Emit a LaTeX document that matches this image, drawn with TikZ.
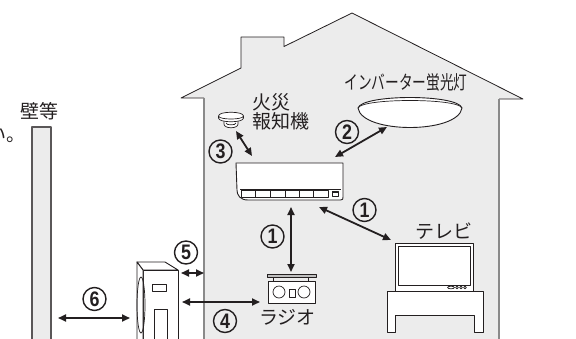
\documentclass[tikz,border=0pt]{standalone}
\usepackage{fontspec}
\newfontfamily\jp{Noto Sans CJK JP}
\newfontfamily\numf{Liberation Sans}
\usetikzlibrary{arrows.meta}
\definecolor{wallfill}{HTML}{ECECEC}
\definecolor{ink}{HTML}{231F20}
\definecolor{wallline}{HTML}{8A8A8A}
\newcommand{\cdigit}[1]{\scalebox{0.85}[1]{#1}}
\begin{document}
\begin{tikzpicture}[x=1pt,y=-1pt,line join=round,
  lbl/.style={font=\jp\fontsize{19}{21}\selectfont,text=ink,inner sep=0pt},
  num/.style={circle,draw=ink,line width=1.4pt,minimum size=23pt,inner sep=0pt,
    font=\numf\bfseries\fontsize{21}{21}\selectfont,text=ink},
  dbl/.style={{Triangle[length=8pt,width=7pt]}-{Triangle[length=8pt,width=7pt]},
    line width=1.8pt,draw=ink},
  obj/.style={draw=ink,line width=0.9pt,fill=white},
  thin/.style={draw=ink,line width=0.7pt}]
\useasboundingbox (0,0) rectangle (576,338);

% house body
\fill[wallfill] (181,98) -- (241,68) -- (241,37) -- (284,37) -- (284,46.5)
  -- (352,13) -- (523,99) -- (499,99) -- (499,345) -- (204,345) -- (204,98) -- cycle;
\draw[ink,line width=0.8pt] (204,98) -- (181,98) -- (241,68) -- (241,37) -- (284,37)
  -- (284,46.5) -- (352,13) -- (523,99) -- (499,99);
\draw[wallline,line width=1.8pt] (204,98) -- (204,345);
\draw[wallline,line width=1.8pt] (499,99) -- (499,345);

% outside wall
\draw[fill=wallfill,draw=ink!75,line width=1.1pt] (32,127) rectangle (51,345);
\node[lbl] (wall) at (39.5,111.5) {壁等};
\node[lbl,anchor=base east] (tail) at (26,141) {い。};

% ceiling light
\draw[obj] (358,108) .. controls (362,94) and (458,94) .. (462,108)
  .. controls (458,134) and (362,134) .. (358,108) -- cycle;
\draw[thin] (358,108) .. controls (362,98) and (458,98) .. (462,108);
\node[lbl,xscale=0.72] (lightlbl) at (406,82) {インバーター蛍光灯};

% smoke detector
\draw[obj,line width=0.7pt] (224,120) -- (224,124) .. controls (224,129) and (238,129) .. (238,124) -- (238,120);
\draw[obj,line width=0.7pt] (218.5,116) .. controls (218.5,111) and (243.5,111) .. (243.5,116)
  -- (243.5,118) .. controls (243.5,123) and (218.5,123) .. (218.5,118) -- cycle;
\draw[thin] (218.5,116) .. controls (218.5,120) and (243.5,120) .. (243.5,116);
\draw[thin] (226,123) .. controls (226,125.5) and (236,125.5) .. (236,123);
\node[lbl] (fire1) at (271,102.5) {火災};
\node[lbl] (fire2) at (280.5,121) {報知機};

% indoor air conditioner
\draw[obj] (236,163) -- (343,163) -- (343,197) .. controls (343,199.5) .. (340.5,200)
  -- (248,200) .. controls (240,200) and (237,195) .. (237,190) -- cycle;
\draw[ink,line width=1.6pt] (240,189.5) -- (341,189.5);
\draw[thin] (241,190) rectangle (328,197);
\foreach \vx in {255,270,285,299,313} \draw[thin] (\vx,190) -- (\vx,197);
\draw[thin,fill=white] (332,191) rectangle (338,196);
\fill[ink] (332,191) rectangle (338,193);

% television on its stand
\draw[obj] (387,291) -- (483,291) -- (483,332) -- (474,332) -- (474,315)
  -- (395,315) -- (395,332) -- (387,332) -- cycle;
\draw[obj] (395,243) rectangle (473,291);
\draw[thin] (398,246) rectangle (470,285);
\draw[thin] (451,287.5) ellipse [x radius=3.5, y radius=1.3];
\foreach \bx in {457,461,465} \draw[thin] (\bx,287.5) circle [radius=1.3];
\node[lbl] (tvlbl) at (443.5,231) {テレビ};

% radio
\draw[draw=ink,fill=black!25,line width=0.7pt] (267,274) rectangle (316,277);
\draw[thin] (273,277) -- (273,281) (308,277) -- (308,281);
\draw[obj] (268,281) rectangle (315,303);
\draw[thin] (279,292) circle [radius=6];
\draw[thin] (304,292) circle [radius=6];
\draw[thin] (289,289) rectangle (295,297);
\node[lbl] (radiolbl) at (287.5,317.5) {ラジオ};

% outdoor unit
\draw[obj] (137,262) -- (165,262) -- (178,270) -- (143,270) -- cycle;
\draw[obj] (143,270) rectangle (178,345);
\draw[obj] (137,262) -- (143,270) -- (143,345) -- (137,345) -- cycle;
\draw[thin] (141,305) ellipse [x radius=4, y radius=28];
\draw[thin] (152,284) rectangle (166,291);
\draw[thin] (154,309) rectangle (167,345);

% distance arrows
\coordinate (smokeA) at (236,131);  \coordinate (acA) at (252,156);
\coordinate (acB) at (335,157);     \coordinate (lightA) at (387,127);
\coordinate (acC) at (319,207);     \coordinate (tvA) at (391,240);
\coordinate (acD) at (291,207);     \coordinate (radioA) at (291,272);
\coordinate (unitA) at (181,273);   \coordinate (houseA) at (204,273);
\coordinate (unitB) at (182,302);   \coordinate (radioB) at (260,302);
\coordinate (wallA) at (58,318);    \coordinate (unitC) at (130,318);
\draw[dbl] (smokeA) -- (acA);
\draw[dbl] (acB) -- (lightA);
\draw[dbl] (acC) -- (tvA);
\draw[dbl] (acD) -- (radioA);
\draw[dbl] (unitA) -- (houseA);
\draw[dbl] (unitB) -- (radioB);
\draw[dbl] (wallA) -- (unitC);

% circled numbers
\node[num] (n3) at (220.5,151.5) {\cdigit{3}};
\node[num] (n2) at (347,132) {\cdigit{2}};
\node[num] (n1a) at (364.5,210) {\cdigit{1}};
\node[num] (n1b) at (272.5,236.5) {\cdigit{1}};
\node[num] (n5) at (186,252.5) {\cdigit{5}};
\node[num] (n4) at (225,321) {\cdigit{4}};
\node[num] (n6) at (94.5,299) {\cdigit{6}};
\end{tikzpicture}
\end{document}
